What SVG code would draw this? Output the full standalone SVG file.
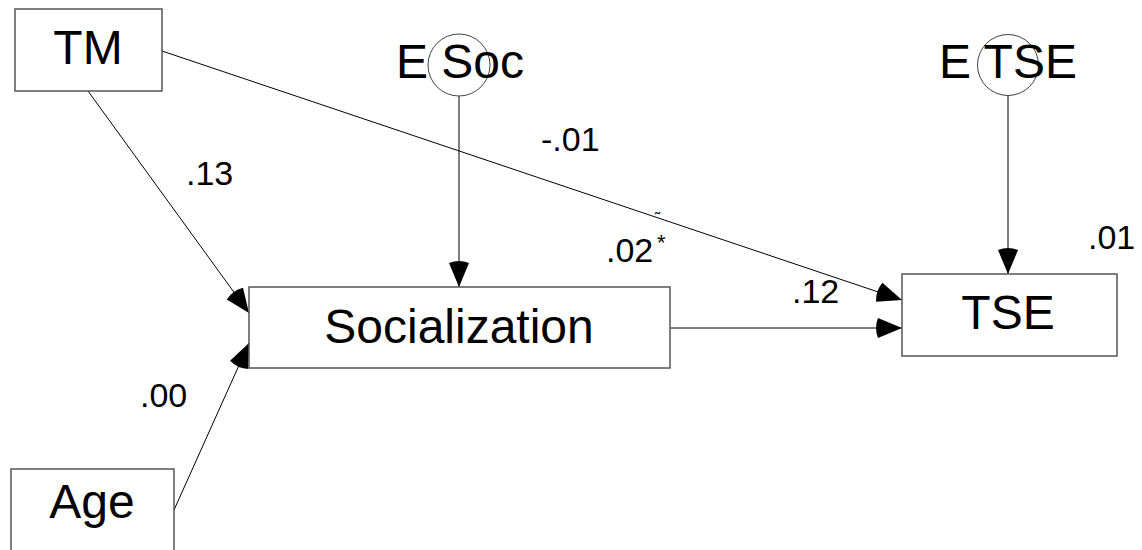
<svg xmlns="http://www.w3.org/2000/svg" width="1142" height="550" viewBox="0 0 1142 550">
<defs>
<style>
.box{fill:#fff;stroke:#555;stroke-width:1.5}
.circ{fill:none;stroke:#444;stroke-width:1}
.node{font-family:"Liberation Sans",Arial,sans-serif;font-size:48px;fill:#000;text-anchor:middle}
.lbl{font-family:"Liberation Sans",Arial,sans-serif;font-size:34px;fill:#000}
.conn{stroke:#000;stroke-width:1;fill:none;marker-end:url(#ah)}
</style>
<marker id="ah" markerUnits="userSpaceOnUse" markerWidth="30" markerHeight="24" refX="24" refY="10" orient="auto" viewBox="-5 0 30 20">
<path d="M24,10 L0,0 Q-4,10 0,20 Z" fill="#000"/>
</marker>
</defs>
<g id="connectors">
<line class="conn" x1="88" y1="91" x2="249" y2="313"/>
<line class="conn" x1="174" y1="510" x2="249" y2="343"/>
<line class="conn" x1="162" y1="51" x2="902" y2="300"/>
<line class="conn" x1="670" y1="328" x2="902" y2="328"/>
<line class="conn" x1="459" y1="96" x2="459" y2="287"/>
<line class="conn" x1="1008" y1="96" x2="1008" y2="274"/>
</g>
<g id="TM">
<rect class="box" x="15" y="9" width="147" height="82"/>
<text class="node" x="88" y="64">TM</text>
</g>
<g id="Age">
<rect class="box" x="11" y="469" width="163" height="100"/>
<text class="node" x="92" y="518">Age</text>
</g>
<g id="Socialization">
<rect class="box" x="249" y="287" width="421" height="81"/>
<text class="node" x="459" y="343">Socialization</text>
</g>
<g id="TSE">
<rect class="box" x="902" y="274" width="215" height="82"/>
<text class="node" x="1008" y="329">TSE</text>
</g>
<g id="ESoc">
<circle class="circ" cx="459" cy="65" r="31"/>
<text class="node" x="460" y="78">E Soc</text>
</g>
<g id="ETSE">
<circle class="circ" cx="1008" cy="65" r="30.5"/>
<text class="node" x="1008" y="78">E TSE</text>
</g>
<g id="labels">
<text class="lbl" x="541" y="151">-.01</text>
<text class="lbl" x="186" y="185">.13</text>
<text class="lbl" x="606" y="262">.02</text>
<text class="lbl" x="657" y="250" style="font-size:22px">*</text>
<text class="lbl" x="655" y="223" style="font-size:14px;font-weight:bold">˜</text>
<text class="lbl" x="792" y="303">.12</text>
<text class="lbl" x="1088" y="249">.01</text>
<text class="lbl" x="140" y="407">.00</text>
</g>
</svg>
